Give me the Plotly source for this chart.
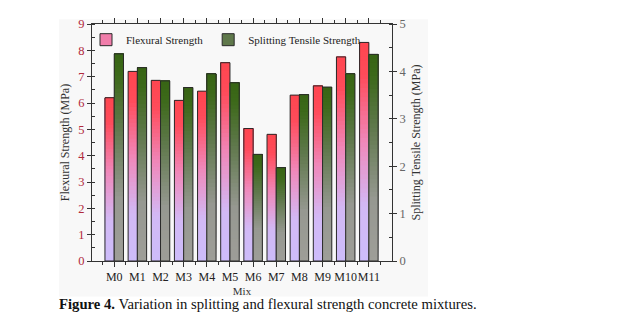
import plotly.graph_objects as go

mixes = ["M0", "M1", "M2", "M3", "M4", "M5", "M6", "M7", "M8", "M9", "M10", "M11"]
flexural = [6.2, 7.2, 6.86, 6.1, 6.45, 7.53, 5.03, 4.81, 6.3, 6.65, 7.75, 8.3]
splitting = [4.37, 4.08, 3.80, 3.66, 3.95, 3.76, 2.25, 1.97, 3.51, 3.67, 3.95, 4.36]

xs = list(range(len(mixes)))
N = 48
SERIF = "Liberation Serif, Times New Roman, serif"


def grad(stops, f):
    for (f0, c0), (f1, c1) in zip(stops, stops[1:]):
        if f0 <= f <= f1:
            t = 0 if f1 == f0 else (f - f0) / (f1 - f0)
            c = [round(a + (b - a) * t) for a, b in zip(c0, c1)]
            return "rgb(%d,%d,%d)" % tuple(c)
    c = stops[-1][1] if f > stops[-1][0] else stops[0][1]
    return "rgb(%d,%d,%d)" % tuple(c)


red_stops = [(0.0, (205, 188, 250)), (0.25, (210, 185, 245)), (0.55, (240, 135, 185)), (0.85, (255, 75, 90)), (1.0, (255, 70, 80))]
green_stops = [(0.0, (158, 158, 152)), (0.3, (150, 152, 145)), (0.65, (95, 120, 75)), (0.9, (60, 105, 25)), (1.0, (55, 100, 20))]

fig = go.Figure()

for vals, stops, off, axis in [(flexural, red_stops, -0.4, "y"), (splitting, green_stops, 0.0, "y2")]:
    for k in range(N):
        f = (k + 0.5) / N
        fig.add_trace(go.Bar(
            x=xs, y=[v * (N - k) / N for v in vals], base=[v * k / N for v in vals],
            offset=off, width=0.4, yaxis=axis,
            marker=dict(color=grad(stops, f), line=dict(width=0)),
            showlegend=False, hoverinfo="skip"))
    fig.add_trace(go.Bar(
        x=xs, y=vals, offset=off, width=0.4, yaxis=axis,
        marker=dict(color="rgba(0,0,0,0)", line=dict(width=1, color="#2a2a2a")),
        showlegend=False))

# legend entries
fig.add_trace(go.Bar(x=[None], y=[None], name="Flexural Strength",
                     marker=dict(color="rgb(240,125,170)", line=dict(width=1, color="#2a2a2a"))))
fig.add_trace(go.Bar(x=[None], y=[None], name="Splitting Tensile Strength", yaxis="y2",
                     marker=dict(color="rgb(95,120,75)", line=dict(width=1, color="#2a2a2a"))))

axis_line = dict(showline=True, linecolor="#333", linewidth=1, showgrid=False, zeroline=False)

fig.update_layout(
    width=636, height=318,
    margin=dict(l=92, r=244, t=24, b=57),
    paper_bgcolor="white", plot_bgcolor="#f8f8f8",
    barmode="overlay",
    font=dict(family=SERIF, size=12, color="#333"),
    xaxis=dict(range=[-0.96, 12.0], tickvals=xs, ticktext=mixes, ticks="outside", ticklen=5,
               tickcolor="#333", mirror="ticks", tickangle=0,
               minor=dict(tickvals=[i + 0.5 for i in range(-1, len(mixes) + 1)], ticks="outside", ticklen=3, tickcolor="#333"),
               tickfont=dict(family=SERIF, size=12, color="#222"),
               title=dict(text="Mix", font=dict(family=SERIF, size=11, color="#333"), standoff=3),
               **axis_line),
    yaxis=dict(range=[0, 9], dtick=1, ticks="outside", ticklen=4, tickcolor="#333",
               minor=dict(dtick=0.5, ticks="inside", ticklen=3, tickcolor="#333"),
               tickfont=dict(family=SERIF, size=12.5, color="#b0283c"),
               title=dict(text="Flexural Strength (MPa)", font=dict(family=SERIF, size=12, color="#333"), standoff=6),
               **axis_line),
    yaxis2=dict(range=[0, 5], dtick=1, overlaying="y", side="right", ticks="outside", ticklen=4, tickcolor="#333",
                minor=dict(dtick=0.5, ticks="inside", ticklen=3, tickcolor="#333"),
                tickfont=dict(family=SERIF, size=12.5, color="#666"),
                title=dict(text="Splitting Tensile Strength (MPa)", font=dict(family=SERIF, size=12, color="#333"), standoff=6),
                **axis_line),
    legend=dict(orientation="h", x=-0.02, y=0.995, xanchor="left", yanchor="top",
                bgcolor="rgba(0,0,0,0)", font=dict(family=SERIF, size=11, color="#222"),
                itemwidth=30, tracegroupgap=0),
    shapes=[dict(type="rect", xref="paper", yref="paper", x0=-0.11, x1=1.12, y0=-0.15, y1=1.02,
                 fillcolor="#f8f8f8", line=dict(width=0), layer="below")],
    annotations=[dict(text="<b>Figure 4.</b> Variation in splitting and flexural strength concrete mixtures.",
                      xref="paper", yref="paper", x=-0.117, y=-0.18, xanchor="left", yanchor="middle",
                      showarrow=False, font=dict(family=SERIF, size=14.7, color="#111"))],
)

fig.write_html("out.html")
